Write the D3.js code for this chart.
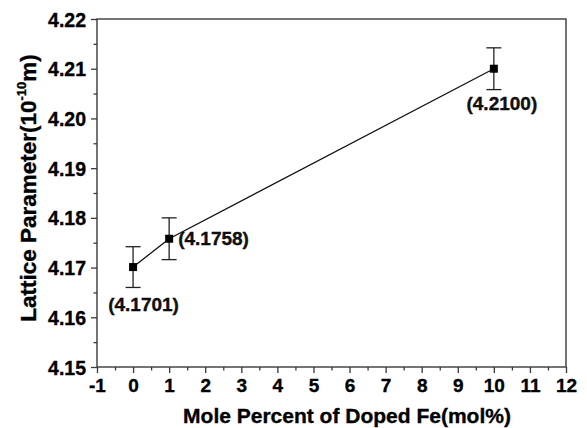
<!DOCTYPE html>
<html><head><meta charset="utf-8">
<script src="https://cdn.jsdelivr.net/npm/d3@7"></script>
<style>
html,body{margin:0;padding:0;background:#fff;}
svg{display:block;font-family:Arial,"Liberation Sans",sans-serif;}
svg text{stroke:#000;stroke-width:0.35px;}
</style></head>
<body><svg id="c" width="587" height="428"></svg>
<script>
const xValues = [0, 1, 10];
const yValues = [4.1701, 4.1758, 4.2100];
const yErrors = [0.0041, 0.0042, 0.0042];
const pointLabels = ["(4.1701)", "(4.1758)", "(4.2100)"];
const xTicks = [-1,0,1,2,3,4,5,6,7,8,9,10,11,12];
const xMinor = [-0.5,0.5,1.5,2.5,3.5,4.5,5.5,6.5,7.5,8.5,9.5,10.5,11.5];
const yTicks = [4.15,4.16,4.17,4.18,4.19,4.20,4.21,4.22];
const yTickLabels = ["4.15","4.16","4.17","4.18","4.19","4.20","4.21","4.22"];
const yMinor = [4.155,4.165,4.175,4.185,4.195,4.205,4.215];
const xTitle = "Mole Percent of Doped Fe(mol%)";

const L = 97, R = 566, T = 19, B = 367;
const svg = d3.select("#c");
const x = d3.scaleLinear().domain([-1, 12]).range([L, R]);
const y = d3.scaleLinear().domain([4.15, 4.22]).range([B, T]);
const axisColor = "#3a3a3a";

// frame
svg.append("rect").attr("x", L).attr("y", T).attr("width", R - L).attr("height", B - T)
  .attr("fill", "none").attr("stroke", axisColor).attr("stroke-width", 1.4);

function styleAxis(g){
  g.attr("font-family", "Arial, 'Liberation Sans', sans-serif").attr("font-weight", "bold");
  g.select(".domain").remove();
  g.selectAll(".tick line").attr("stroke", axisColor).attr("stroke-width", 1.3);
  g.selectAll(".tick text").attr("fill", "#000").attr("font-weight", "bold");
}

const gx = svg.append("g").attr("transform", `translate(0,${B})`)
  .call(d3.axisBottom(x).tickValues(xTicks).tickSize(6).tickPadding(6).tickFormat(d => String(d)));
styleAxis(gx);
gx.attr("font-size", 19);
gx.selectAll(".tick text").attr("font-size", 19);
const gxm = svg.append("g").attr("transform", `translate(0,${B})`)
  .call(d3.axisBottom(x).tickValues(xMinor).tickSize(3.5).tickFormat(""));
styleAxis(gxm);

const gy = svg.append("g").attr("transform", `translate(${L},0)`)
  .call(d3.axisLeft(y).tickValues(yTicks).tickSize(6).tickPadding(5)
    .tickFormat((d, i) => yTickLabels[i]));
styleAxis(gy);
gy.attr("font-size", 19.5);
gy.selectAll(".tick text").attr("font-size", 19.5).attr("dy", "0.36em");
const gym = svg.append("g").attr("transform", `translate(${L},0)`)
  .call(d3.axisLeft(y).tickValues(yMinor).tickSize(3.5).tickFormat(""));
styleAxis(gym);

// line
const pts = xValues.map((v, i) => ({x: v, y: yValues[i], e: yErrors[i], lab: pointLabels[i]}));
svg.append("path").datum(pts)
  .attr("d", d3.line().x(d => x(d.x)).y(d => y(d.y)))
  .attr("fill", "none").attr("stroke", "#111").attr("stroke-width", 1.3);

// error bars
const eb = svg.append("g").attr("stroke", "#222").attr("stroke-width", 1.3);
pts.forEach(d => {
  const cx = x(d.x);
  eb.append("line").attr("x1", cx).attr("x2", cx).attr("y1", y(d.y + d.e)).attr("y2", y(d.y - d.e));
  eb.append("line").attr("x1", cx - 7.5).attr("x2", cx + 7.5).attr("y1", y(d.y + d.e)).attr("y2", y(d.y + d.e));
  eb.append("line").attr("x1", cx - 7.5).attr("x2", cx + 7.5).attr("y1", y(d.y - d.e)).attr("y2", y(d.y - d.e));
});

// markers
svg.append("g").selectAll("rect").data(pts).join("rect")
  .attr("x", d => x(d.x) - 4).attr("y", d => y(d.y) - 4)
  .attr("width", 8).attr("height", 8).attr("fill", "#000");

// point labels
const labelOffsets = [[10.5, 44, "middle"], [9, 6, "start"], [8, 41, "middle"]];
svg.append("g").selectAll("text").data(pts).join("text")
  .attr("x", (d, i) => x(d.x) + labelOffsets[i][0])
  .attr("y", (d, i) => y(d.y) + labelOffsets[i][1])
  .attr("text-anchor", (d, i) => labelOffsets[i][2])
  .attr("font-size", 19).attr("font-weight", "bold").attr("fill", "#111")
  .text(d => d.lab);

// x title
svg.append("text").attr("x", 347).attr("y", 423).attr("text-anchor", "middle")
  .attr("font-size", 21).attr("font-weight", "bold").attr("fill", "#000").text(xTitle);

// y title
const yt = svg.append("text").attr("transform", `translate(35.5,188) rotate(-90)`)
  .attr("text-anchor", "middle").attr("font-size", 22.5).attr("font-weight", "bold").attr("fill", "#000");
yt.append("tspan").text("Lattice Parameter(10");
yt.append("tspan").attr("font-size", 13).attr("dy", -10).text("-10");
yt.append("tspan").attr("dy", 10).text("m)");
</script></body></html>
